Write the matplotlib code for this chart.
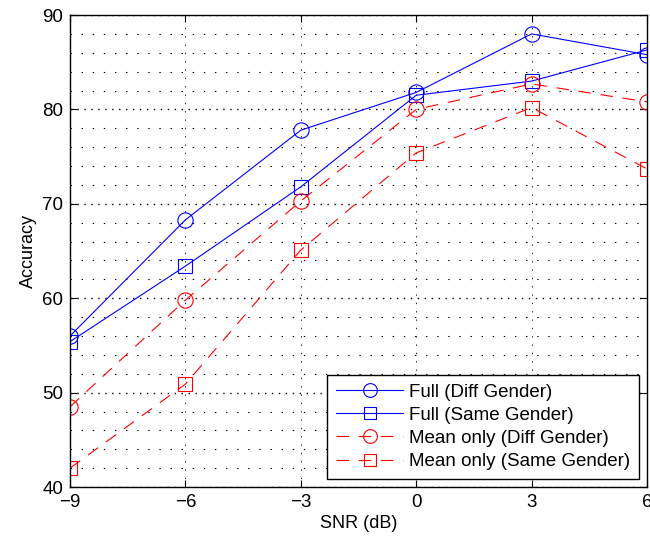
import matplotlib.pyplot as plt
from matplotlib.ticker import MultipleLocator

plt.rcParams["font.family"] = ["Liberation Sans", "DejaVu Sans"]
plt.rcParams["lines.scale_dashes"] = False

snr = [-9, -6, -3, 0, 3, 6]
full_diff = [56.0, 68.3, 77.8, 81.8, 88.0, 85.8]
full_same = [55.4, 63.4, 71.8, 81.5, 83.0, 86.3]
mean_diff = [48.5, 59.8, 70.3, 80.0, 82.7, 80.8]
mean_same = [42.0, 50.9, 65.1, 75.4, 80.2, 73.7]

fig = plt.figure(figsize=(6.5, 5.4), dpi=100)
ax = fig.add_axes([0.1077, 0.0981, 0.8877, 0.8741])

blue = "#0000ff"
red = "#ff0000"
dash = (0, (9, 7))

ax.plot(snr, full_diff, color=blue, lw=0.8, marker="o", ms=11, mfc="none",
        mew=0.8, label="Full (Diff Gender)")
ax.plot(snr, full_same, color=blue, lw=0.8, marker="s", ms=9.5, mfc="none",
        mew=0.8, label="Full (Same Gender)")
ax.plot(snr, mean_diff, color=red, lw=0.8, ls=dash, marker="o", ms=11,
        mfc="none", mew=0.8, label="Mean only (Diff Gender)")
ax.plot(snr, mean_same, color=red, lw=0.8, ls=dash, marker="s", ms=9.5,
        mfc="none", mew=0.8, label="Mean only (Same Gender)")

ax.set_xlim(-9, 6)
ax.set_ylim(40, 90)
ax.set_xticks(snr)
ax.set_xticklabels(["\u22129", "\u22126", "\u22123", "0", "3", "6"])
ax.yaxis.set_major_locator(MultipleLocator(10))
ax.yaxis.set_minor_locator(MultipleLocator(2))

# dotted grid, denser dots on the major lines
ax.grid(True, which="major", axis="y", color="black", lw=1.0, ls=(0, (1, 4)))
ax.grid(True, which="minor", axis="y", color="black", lw=0.8, ls=(0, (1, 7)))
ax.grid(True, which="major", axis="x", color="black", lw=0.6, ls=(0, (1, 5)))
ax.set_axisbelow(True)

ax.tick_params(which="both", direction="in", top=True, right=True,
               labelsize=13.5, length=5, width=0.8, pad=5)
ax.tick_params(which="minor", length=0)
for s in ax.spines.values():
    s.set_linewidth(1.0)

ax.set_xlabel("SNR (dB)", fontsize=13, labelpad=3)
ax.set_ylabel("Accuracy", fontsize=13, labelpad=4)

leg = ax.legend(loc="lower right", fontsize=13.5, handlelength=3.6,
                fancybox=False, framealpha=1, edgecolor="black",
                borderaxespad=0.45, labelspacing=0.32, borderpad=0.45,
                handletextpad=0.3, markerscale=0.9)
leg.get_frame().set_linewidth(1.0)

fig.savefig("out.png", dpi=100)
